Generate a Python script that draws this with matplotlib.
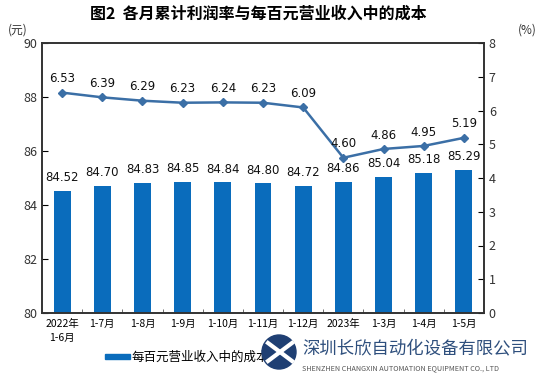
import matplotlib.pyplot as plt
from matplotlib.patches import Ellipse

plt.rcParams['font.family'] = ['Noto Sans CJK SC', 'DejaVu Sans']
plt.rcParams['axes.unicode_minus'] = False

# ========== 数据 ==========
months = ['2022年\n1-6月', '1-7月', '1-8月', '1-9月', '1-10月', '1-11月',
          '1-12月', '2023年', '1-3月', '1-4月', '1-5月']
cost = [84.52, 84.70, 84.83, 84.85, 84.84, 84.80, 84.72, 84.86, 85.04, 85.18, 85.29]
profit_rate = [6.53, 6.39, 6.29, 6.23, 6.24, 6.23, 6.09, 4.60, 4.86, 4.95, 5.19]

bar_color = '#0A6CBC'
line_color = '#3B6FA6'

W, H = 545, 377
fig = plt.figure(figsize=(W / 100, H / 100), dpi=100)
ax = fig.add_axes([42 / W, 1 - 313 / H, 442 / W, 270 / H])
ax2 = ax.twinx()

x = list(range(len(months)))
ax.bar(x, cost, width=0.42, color=bar_color, zorder=2)
ax.set_ylim(80, 90)
ax.set_xlim(-0.5, len(months) - 0.5)
ax.set_yticks(range(80, 91, 2))
for xi, v in zip(x, cost):
    ax.text(xi, v + 0.25, f'{v:.2f}', ha='center', va='bottom', fontsize=8.5,
            family='DejaVu Sans', color='#111111')

ax2.plot(x, profit_rate, color=line_color, lw=1.8, marker='D', ms=4, zorder=3)
ax2.set_ylim(0, 8)
ax2.set_yticks(range(0, 9))
for xi, v in zip(x, profit_rate):
    ax2.text(xi, v + 0.22, f'{v:.2f}', ha='center', va='bottom', fontsize=8.5,
             family='DejaVu Sans', color='#111111')

# 刻度与边框
ax.set_xticks(x)
ax.set_xticklabels(months, fontsize=7.5, linespacing=1.6)
ax.set_xticks([i + 0.5 for i in x[:-1]], minor=True)
ax.tick_params(axis='x', which='major', length=0, pad=4)
ax.tick_params(axis='x', which='minor', direction='in', length=3, color='#555555')
ax.tick_params(axis='y', direction='in', length=4, labelsize=9, labelcolor='#333333')
ax2.tick_params(axis='y', direction='in', length=4, labelsize=9, labelcolor='#333333')
for a in (ax, ax2):
    for s in a.spines.values():
        s.set_color('#333333')
        s.set_linewidth(1.2)

fig.text(258 / W, 1 - 14 / H, '图2  各月累计利润率与每百元营业收入中的成本', ha='center',
         va='center', fontsize=11.5, weight='bold')
fig.text(18 / W, 1 - 30 / H, '(元)', ha='center', va='center', fontsize=8.5, color='#333333')
fig.text(527 / W, 1 - 30 / H, '(%)', ha='center', va='center', fontsize=8.5, color='#333333')

# 图例
fig.patches.append(plt.Rectangle((105 / W, 1 - 359 / H), 25 / W, 5 / H,
                                 transform=fig.transFigure, color=bar_color))
fig.text(132 / W, 1 - 357 / H, '每百元营业收入中的成本', ha='left', va='center',
         fontsize=9)

# 水印 logo
fig.patches.append(Ellipse((279 / W, 1 - 352 / H), 34 / W, 34 / H,
                           transform=fig.transFigure, color='#1F3F73', zorder=5))
fig.lines.append(plt.Line2D([268 / W, 292 / W], [1 - 343 / H, 1 - 361 / H],
                            transform=fig.transFigure, color='white', lw=3, zorder=6))
fig.lines.append(plt.Line2D([268 / W, 292 / W], [1 - 361 / H, 1 - 343 / H],
                            transform=fig.transFigure, color='white', lw=3, zorder=6))
fig.text(302 / W, 1 - 348 / H, '深圳长欣自动化设备有限公司', ha='left', va='center',
         fontsize=12.5, color='#2E4F7D', zorder=6)
fig.text(302 / W, 1 - 368 / H, 'SHENZHEN CHANGXIN AUTOMATION EQUIPMENT CO., LTD',
         ha='left', va='center', fontsize=5.2, color='#555555', zorder=6)

fig.savefig('out.png', dpi=100)
